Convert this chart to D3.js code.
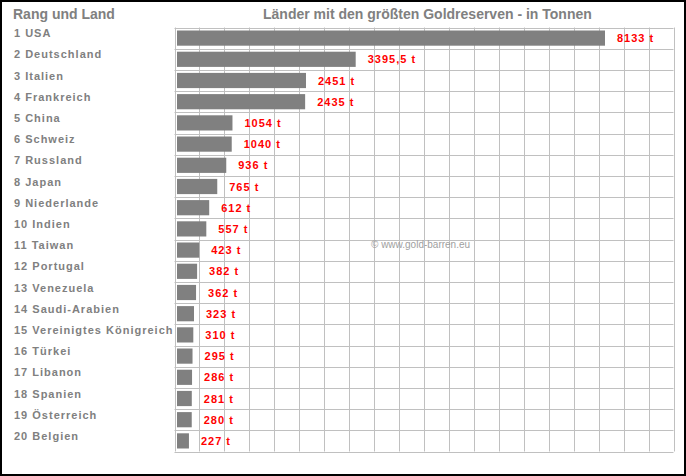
<!DOCTYPE html><html><head><meta charset="utf-8"><script src="https://cdn.jsdelivr.net/npm/d3@7"></script>
<style>body{margin:0;background:#fff}svg{display:block}text{font-family:"Liberation Sans",Arial,sans-serif;font-weight:bold}</style></head><body>
<script>
const countries=["1 USA","2 Deutschland","3 Italien","4 Frankreich","5 China","6 Schweiz","7 Russland","8 Japan","9 Niederlande","10 Indien","11 Taiwan","12 Portugal","13 Venezuela","14 Saudi-Arabien","15 Vereinigtes Königreich","16 Türkei","17 Libanon","18 Spanien","19 Österreich","20 Belgien"];
const values=[8133,3395.5,2451,2435,1054,1040,936,765,612,557,423,382,362,323,310,295,286,281,280,227];
const valueLabels=["8133 t","3395,5 t","2451 t","2435 t","1054 t","1040 t","936 t","765 t","612 t","557 t","423 t","382 t","362 t","323 t","310 t","295 t","286 t","281 t","280 t","227 t"];
(function(){
const W=686,H=476;
const svg=d3.select("body").append("svg").attr("width",W).attr("height",H);
svg.append("rect").attr("x",1).attr("y",1).attr("width",W-2).attr("height",H-2).attr("fill","#fff").attr("stroke","#000").attr("stroke-width",2);
const pl=174.5,pr=673.5,pt=27.5,pb=451.5;
const y=d3.scaleBand().domain(countries).range([pt,pb]);
const x=d3.scaleLinear().domain([0,8133]).range([177,605]);
const g=svg.append("g");
d3.range(21).map(i=>pl+(pr-pl)*i/20).forEach(cx=>g.append("line").attr("x1",Math.round(cx)+0.5).attr("x2",Math.round(cx)+0.5).attr("y1",pt).attr("y2",pb).attr("stroke","#c0c0c0"));
countries.concat([null]).forEach(c=>{const yy=c?y(c):pb;g.append("line").attr("x1",pl).attr("x2",pr).attr("y1",Math.round(yy)+0.5).attr("y2",Math.round(yy)+0.5).attr("stroke","#c0c0c0");});
svg.selectAll(".bar").data(values).join("rect").attr("x",x(0)).attr("y",(d,i)=>y(countries[i])+3).attr("height",y.bandwidth()-6).attr("width",d=>x(d)-x(0)).attr("fill","#808080");
svg.selectAll(".val").data(values).join("text").attr("x",d=>x(d)+12).attr("y",(d,i)=>y(countries[i])+y.bandwidth()/2+4).text((d,i)=>valueLabels[i]).attr("fill","#ff0000").attr("font-size",11).attr("letter-spacing",1);
svg.selectAll(".lab").data(countries).join("text").attr("x",14).attr("y",d=>y(d)+y.bandwidth()/2-1).text(d=>d).attr("fill","#808080").attr("font-size",11).attr("letter-spacing",1);
svg.append("text").attr("x",13).attr("y",19).text("Rang und Land").attr("fill","#808080").attr("font-size",14);
svg.append("text").attr("x",263).attr("y",19).text("Länder mit den größten Goldreserven - in Tonnen").attr("fill","#808080").attr("font-size",14);
svg.append("text").attr("x",371).attr("y",248).text("© www.gold-barren.eu").attr("fill","#a0a0a0").attr("font-size",10).style("font-weight","normal");
})();
</script></body></html>
